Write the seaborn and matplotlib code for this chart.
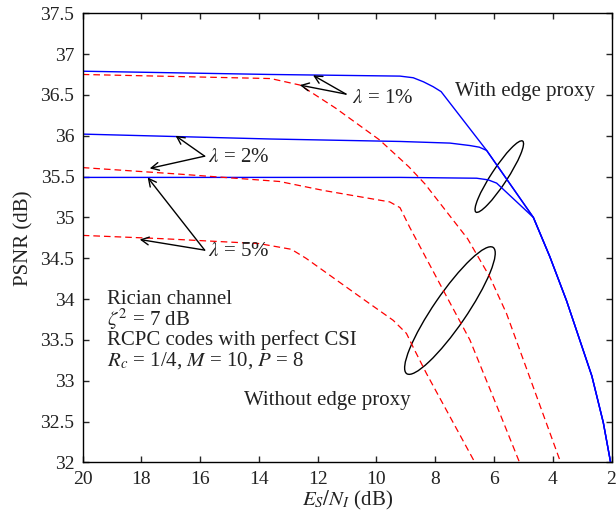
import numpy as np
import seaborn as sns
import matplotlib.pyplot as plt
from matplotlib.patches import Ellipse
from matplotlib import transforms

# =====================================================
# Data
# =====================================================

# With edge proxy (blue, solid)
es_blue_1 = [20, 13.6, 9.2, 8.75, 8.4, 8.07, 7.8, 6.25, 4.66, 4.1, 3.53, 2.67, 2.28, 2.03]
psnr_blue_1 = [36.79, 36.75, 36.73, 36.71, 36.66, 36.60, 36.54, 35.82, 35.00, 34.52, 33.98, 33.06, 32.49, 32.0]

es_blue_2 = [20, 13.6, 9.2, 7.5, 6.82, 6.5, 6.25, 4.66, 4.1, 3.53, 2.67, 2.28, 2.03]
psnr_blue_2 = [36.02, 35.96, 35.93, 35.91, 35.88, 35.86, 35.82, 35.00, 34.52, 33.98, 33.06, 32.49, 32.0]

es_blue_5 = [20, 9.2, 6.59, 6.2, 5.91, 4.66, 4.1, 3.53, 2.67, 2.28, 2.03]
psnr_blue_5 = [35.49, 35.49, 35.48, 35.46, 35.42, 35.00, 34.52, 33.98, 33.06, 32.49, 32.0]

# Without edge proxy (red, dashed)
es_red_1 = [20, 13.6, 12.6, 11.4, 9.9, 8.9, 8.35, 6.9, 6.14, 5.57, 3.73]
psnr_red_1 = [36.75, 36.70, 36.62, 36.34, 35.95, 35.62, 35.41, 34.74, 34.27, 33.82, 32.0]

es_red_2 = [20, 16.7, 13.3, 11.8, 9.55, 9.2, 8.87, 7.73, 6.82, 5.8, 5.13]
psnr_red_2 = [35.61, 35.53, 35.44, 35.33, 35.19, 35.12, 34.88, 34.11, 33.50, 32.60, 32.0]

es_red_5 = [20, 17.3, 14, 12.9, 12.4, 10.57, 9.43, 8.98, 8.75, 8.3, 6.65]
psnr_red_5 = [34.78, 34.74, 34.68, 34.61, 34.50, 34.03, 33.74, 33.58, 33.41, 33.09, 32.0]

x_ticks = list(range(20, 1, -2))
y_ticks = np.arange(32, 37.51, 0.5)

# =====================================================
# Style
# =====================================================

sns.set_style("ticks")
plt.rcParams["font.family"] = ["Liberation Serif", "DejaVu Serif"]
plt.rcParams["mathtext.fontset"] = "stix"

TXT = "#222222"

fig = plt.figure(figsize=(6.16, 5.16), dpi=100)
ax = fig.add_axes([0.1343, 0.1037, 0.8584, 0.8707])

# =====================================================
# Curves
# =====================================================

for es, ps in [(es_blue_1, psnr_blue_1), (es_blue_2, psnr_blue_2), (es_blue_5, psnr_blue_5)]:
    sns.lineplot(x=es, y=ps, color="#0000ff", lw=1.0,
                 sort=False, estimator=None, ax=ax)

for es, ps in [(es_red_1, psnr_red_1), (es_red_2, psnr_red_2), (es_red_5, psnr_red_5)]:
    sns.lineplot(x=es, y=ps, color="#ff0000", lw=0.9,
                 linestyle=(0, (5.3, 3.2)),
                 sort=False, estimator=None, ax=ax)

# =====================================================
# Axes
# =====================================================

ax.set_xlim(20, 2)
ax.set_ylim(32, 37.5)
ax.set_xticks(x_ticks)
ax.set_xticklabels([f"{t:g}" for t in x_ticks])
ax.set_yticks(y_ticks)
ax.set_yticklabels([f"{t:g}" for t in y_ticks])

ax.tick_params(direction="in", top=True, right=True, length=4, width=1,
               labelsize=14, labelcolor=TXT)
ax.tick_params(axis="y", pad=6)
ax.tick_params(axis="x", pad=6)
for sp in ax.spines.values():
    sp.set_linewidth(1)
    sp.set_color("black")

ax.set_xlabel("$E_S/N_I$ (dB)", fontsize=15, color=TXT)
ax.set_ylabel("PSNR (dB)", fontsize=15, color=TXT)
ax.yaxis.set_label_coords(-0.094, 0.5)
ax.xaxis.set_label_coords(0.5, -0.06)

# =====================================================
# Annotations
# =====================================================

fs = 15
ax.text(7.33, 36.54, "With edge proxy", fontsize=fs, va="center", ha="left", color=TXT)
ax.text(14.52, 32.76, "Without edge proxy", fontsize=fs, va="center", ha="left", color=TXT)

info = ["Rician channel",
        r"$\zeta^2$ = 7 dB",
        "RCPC codes with perfect CSI",
        r"$R_c$ = 1/4, $M$ = 10, $P$ = 8"]
for i, line in enumerate(info):
    ax.text(19.16, 34.0 - 0.252 * i, line, fontsize=fs, va="center", ha="left", color=TXT)

arrow_kw = dict(arrowstyle="->,head_length=0.55,head_width=0.28",
                lw=1, color="black", shrinkA=0, shrinkB=0)

labels = [
    (r"$\lambda$ = 1%", (10.83, 36.46), (11.04, 36.51), [(12.16, 36.74), (12.61, 36.62)]),
    (r"$\lambda$ = 2%", (15.75, 35.73), (15.85, 35.75), [(16.84, 36.0), (17.72, 35.60)]),
    (r"$\lambda$ = 5%", (15.75, 34.58), (15.85, 34.60), [(17.79, 35.49), (18.06, 34.73)]),
]
for txt, pos, tail, heads in labels:
    ax.text(pos[0], pos[1], txt, fontsize=fs, va="center", ha="left", color=TXT)
    for h in heads:
        ax.annotate("", xy=h, xytext=tail, arrowprops=arrow_kw)

# ellipses sized in inches, centred in data coords
for cx, cy, w, h, ang in [(5.82, 35.50, 0.85, 0.16, 56.7),
                          (7.50, 33.86, 1.53, 0.33, 55.6)]:
    trans = fig.dpi_scale_trans + transforms.ScaledTranslation(cx, cy, ax.transData)
    ax.add_patch(Ellipse((0, 0), w, h, angle=ang, transform=trans,
                         fill=False, ec="black", lw=1))

fig.savefig("out.png", dpi=100)
